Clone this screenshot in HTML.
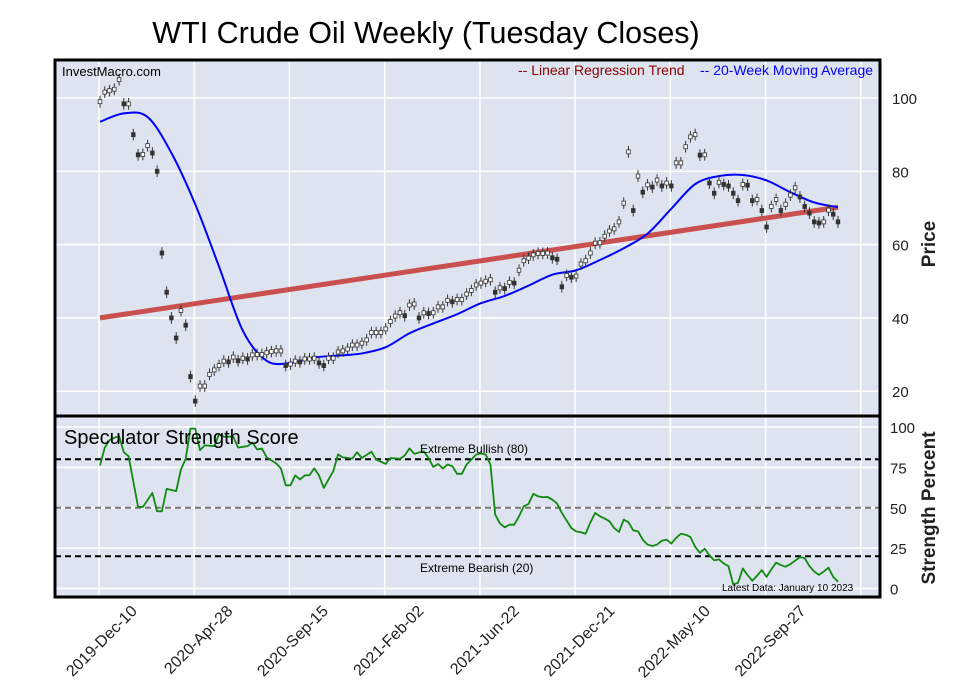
<!DOCTYPE html>
<html><head><meta charset="utf-8"><style>
html,body{margin:0;padding:0;background:#fff;}
svg{display:block;font-family:"Liberation Sans",Arial,sans-serif;}
</style></head><body>
<svg id="chart" width="957" height="694" viewBox="0 0 957 694">
<text x="426" y="43" font-size="30.5" text-anchor="middle" fill="#000">WTI Crude Oil Weekly (Tuesday Closes)</text>
<rect x="55" y="60" width="825" height="356" fill="#dee4ef"/>
<rect x="55" y="416" width="825" height="181" fill="#dee4ef"/>
<g id="grid"></g>
<g id="marks"></g>
<rect x="55" y="60" width="825" height="537" fill="none" stroke="#000" stroke-width="3"/>
<line x1="55" y1="416" x2="880" y2="416" stroke="#000" stroke-width="3"/>
<text x="62" y="76" font-size="13" fill="#000">InvestMacro.com</text>
<text x="518" y="75" font-size="14" fill="#8b0000">-- Linear Regression Trend</text>
<text x="700" y="75" font-size="14" fill="#0000ff">-- 20-Week Moving Average</text>
<text x="64" y="444" font-size="20" fill="#000">Speculator Strength Score</text>
<text x="420" y="453" font-size="12" fill="#000">Extreme Bullish (80)</text>
<text x="420" y="572" font-size="12" fill="#000">Extreme Bearish (20)</text>
<text x="722" y="591" font-size="10" fill="#000">Latest Data: January 10 2023</text>
<text transform="translate(935,244) rotate(-90)" font-size="19" font-weight="bold" text-anchor="middle" fill="#222">Price</text>
<text transform="translate(935,508) rotate(-90)" font-size="19" font-weight="bold" text-anchor="middle" fill="#222">Strength Percent</text>
</svg>
<script>
const priceTicks=[100,80,60,40,20];
const strengthTicks=[100,75,50,25,0];
const dateLabels=["2019-Dec-10","2020-Apr-28","2020-Sep-15","2021-Feb-02","2021-Jun-22","2021-Dec-21","2022-May-10","2022-Sep-27"];
const closes=[99,101.6,102,102.4,105,98.4,98.4,90,84.5,84.6,87,85,80,57.7,47,40,34.5,42,38,24,17.3,21.4,21.4,24.6,25.8,27,28.2,28,29.3,28.3,29,28.8,29.9,30,30,30.5,30.8,31,31,27,27.4,28.2,28,28.8,28.8,29,27.7,27,29,29,30.7,31,
31.5,32.6,32.6,33.1,34,36,36,36,37,39,40.5,41.4,40.6,43.5,43.8,40,41.4,41.2,41.4,43,43,44.8,44.4,45,45,46.5,47.5,49,49.5,50,50.4,47,48.2,48,49.7,49.5,53,55.6,56.3,57.2,57.6,57.6,57.7,56.4,56,48.5,51.6,51.1,51.4,54.7,55.6,57.7,60.4,60.5,62.3,
63.7,64.3,66.2,71.3,85.3,69.3,78.7,74.3,76.3,75.7,77.6,76,76.8,76,82.3,82.3,86.7,89.4,90,84.4,84.5,76.8,74,77,76.4,76,74,72,76.4,76.2,72,72.3,69.3,64.8,70.4,72.3,69.3,71,73.5,75.5,73,70.4,68.6,66.2,65.9,66.2,69.4,68.3,66.2];
const maValues=[93.5,95.8,94.8,85,71,54,36.5,28.3,27.7,29.2,29.7,30.3,32,35.8,38.5,41,44,46,48.8,51.8,53,55.8,59,63,69.8,76.5,78.7,79,77.5,74.3,71.5,70.2];
const maStepWeeks=[5];
const regressionEnds=[40,70.2];
const strengthWeek=[0,1,2,3,4,5,6,8,9,11,12,13,14,16,17,18,19,20,21,22,24,25,26,28,29,31,32,33,34,35,37,38,39,40,41,42,43,44,45,46,47,48,49,50,51,53,54,55,57,58,60,61,63,64,65,66,68,69,70,71,72,73,74,75,76,77,79,
80,81,82,83,84,85,86,87,88,89,90,91,92,93,94,95,96,97,99,100,101,102,103,104,105,106,107,108,109,110,111,112,113,114,115,116,117,118,119,120,121,122,123,124,125,126,127,128,129,130,131,132,133,134,135,136,137,138,139,140,141,142,143,144,145,147,148,149,150,151,152,153,154,155];
const strengthValues=[76.2,87.2,91.9,93.3,94.4,84.4,81.9,50.5,50.5,59.2,47.8,47.8,61.7,60.3,73.7,80.3,99,99,85.7,88.6,88.2,95.5,94,94,87.2,88.2,90.3,86.1,86.7,81.2,77.5,74.4,63.9,63.9,70,67.5,70,70.2,74.4,70,62.3,67.5,72.7,83,81.2,80.5,84.4,80.8,84.7,79.9,77.1,80.8,80.3,82.4,86.7,83.4,85,80.8,75.3,77.1,74.3,76.8,75.7,71,71,76.8,83,
83.6,83,76.8,45.8,40.2,37.9,39.5,39.5,44.7,50.9,52.4,58.6,57.1,56.5,56.7,55,52.6,46.8,37.4,35.4,34.8,33.9,41,46.8,44.7,43.3,41.6,37.4,35,42.7,41,36,35.4,30.2,27.2,26.3,27.2,29.6,30.2,27.8,31.3,33.9,33.3,31.9,25.8,22,24.7,20.5,17.4,18,15.5,13.8,2.5,3.5,12.4,8.3,4.8,7.9,11.4,7.2,11.8,16,14.5,13.5,15.1,19.4,18.8,13.9,10.5,8.4,10.5,12.9,7.2,4.2];
const refLevels=[80,50,20];

const NS="http://www.w3.org/2000/svg";
function mk(tag,attrs,parent){const e=document.createElementNS(NS,tag);for(const k in attrs)e.setAttribute(k,attrs[k]);parent.appendChild(e);return e;}
const wk=155;
function xW(i){return 100+i*(738/wk);}
function yP(p){return 98+(100-p)*3.665;}
function yS(v){return 427+(100-v)*1.615;}
const grid=document.getElementById('grid');
const marks=document.getElementById('marks');
const svg=document.getElementById('chart');

for(let i=0;i<=8;i++){
  const x=xW(i*20)-1;
  const l=mk('line',{x1:x,y1:60,x2:x,y2:597,stroke:'#fff','stroke-width':1.5},grid);
  
  
}
priceTicks.forEach(p=>{
  const l=mk('line',{x1:55,y1:yP(p),x2:880,y2:yP(p),stroke:'#fff','stroke-width':1.5},grid);
  
  
  const t=mk('text',{x:892,y:yP(p)+6,'font-size':15,fill:'#222'},svg);
  t.textContent=p;
  
  
});
strengthTicks.forEach(v=>{
  const l=mk('line',{x1:55,y1:yS(v),x2:880,y2:yS(v),stroke:'#fff','stroke-width':1.5},grid);
  
  
  const t=mk('text',{x:890,y:yS(v)+6,'font-size':15,fill:'#222'},svg);
  t.textContent=v;
  
  
});
dateLabels.forEach((d,i)=>{
  const x=138+i*95.5;
  const t=mk('text',{transform:`translate(${x},612) rotate(-45)`,'font-size':16,'text-anchor':'end',fill:'#222'},svg);
  t.textContent=d;
  
  
});
refLevels.forEach(v=>{
  const l=mk('line',{x1:55,y1:yS(v),x2:880,y2:yS(v),stroke:v===50?'#777':'#000','stroke-width':2,'stroke-dasharray':'6,4'},marks);
  
  
});
const reg=mk('line',{x1:xW(0),y1:yP(regressionEnds[0]),x2:xW(wk),y2:yP(regressionEnds[1]),stroke:'#c9504f','stroke-width':5},marks);


function smooth(pts){let d=`M${pts[0][0]},${pts[0][1]}`;for(let i=0;i<pts.length-1;i++){const p0=pts[i-1]||pts[i],p1=pts[i],p2=pts[i+1],p3=pts[i+2]||p2;
 const c1=[p1[0]+(p2[0]-p0[0])/6,p1[1]+(p2[1]-p0[1])/6],c2=[p2[0]-(p3[0]-p1[0])/6,p2[1]-(p3[1]-p1[1])/6];
 d+=` C${c1[0]},${c1[1]} ${c2[0]},${c2[1]} ${p2[0]},${p2[1]}`;}return d;}
const maPts=maValues.map((v,i)=>[xW(i*maStepWeeks[0]),yP(v)]);
const ma=mk('path',{d:smooth(maPts),fill:'none',stroke:'#0000ff','stroke-width':2},marks);


closes.forEach((c,i)=>{
  const x=xW(i),y=yP(c);
  const up=i===0||c>=closes[i-1];
  const w=mk('line',{x1:x,y1:yP(c+1.6),x2:x,y2:yP(c-1.6),stroke:'#333','stroke-width':1},marks);
  
  
  const b=mk('rect',{x:x-1.8,y:y-2,width:3.6,height:4,fill:up?'#fff':'#333',stroke:'#333','stroke-width':0.8},marks);
  
  
});
const sd=strengthValues.map((v,i)=>(i?'L':'M')+xW(strengthWeek[i])+','+yS(v)).join(' ');
const sl=mk('path',{d:sd,fill:'none',stroke:'#118811','stroke-width':1.8,'stroke-linejoin':'round'},marks);


</script>
</body></html>
